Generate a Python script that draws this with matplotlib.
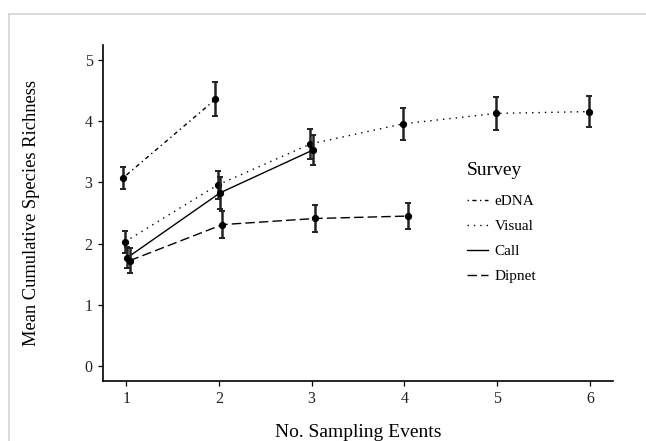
import numpy as np
import matplotlib
matplotlib.use("Agg")
import matplotlib.pyplot as plt
from matplotlib.lines import Line2D

plt.rcParams['font.family'] = ['Liberation Serif', 'DejaVu Serif']

# survey order as in legend
surveys = ['eDNA', 'Visual', 'Call', 'Dipnet']

edna_x = [1, 2]
edna_y = [3.07, 4.36]
edna_se = [0.18, 0.28]

visual_x = [1, 2, 3, 4, 5, 6]
visual_y = [2.03, 2.96, 3.63, 3.96, 4.13, 4.16]
visual_se = [0.18, 0.23, 0.25, 0.26, 0.27, 0.26]

call_x = [1, 2, 3]
call_y = [1.77, 2.83, 3.53]
call_se = [0.17, 0.26, 0.25]

dipnet_x = [1, 2, 3, 4]
dipnet_y = [1.72, 2.31, 2.41, 2.45]
dipnet_se = [0.21, 0.22, 0.22, 0.22]

data = {
    'eDNA': (edna_x, edna_y, edna_se),
    'Visual': (visual_x, visual_y, visual_se),
    'Call': (call_x, call_y, call_se),
    'Dipnet': (dipnet_x, dipnet_y, dipnet_se),
}

# ggplot-ish linetypes
styles = {
    'eDNA': (0, (1, 2.5, 3, 2.5)),
    'Visual': (0, (1, 3.6)),
    'Call': '-',
    'Dipnet': (0, (6.8, 3)),
}
dodge = dict(zip(surveys, [-0.0375, -0.0125, 0.0125, 0.0375]))
LW = 1.0

fig = plt.figure(figsize=(6.46, 4.41), dpi=100)
ax = fig.add_axes([103/646, 1-381/441, 510/646, (381-45)/441])

for s in surveys:
    x, y, se = data[s]
    xd = np.array(x) + dodge[s]
    ax.plot(xd, y, color='black', lw=LW, linestyle=styles[s], label=s)
    ax.errorbar(xd, y, yerr=se, fmt='none', ecolor='#222222', elinewidth=1.8,
                capsize=2.5, capthick=1.4)
    ax.plot(xd, y, 'o', color='black', ms=4.2, linestyle='none')

ax.set_xlim(0.75, 6.25)
ax.set_ylim(-0.25, 5.25)
ax.set_xticks([1, 2, 3, 4, 5, 6])
ax.set_yticks([0, 1, 2, 3, 4, 5])
for sp in ['top', 'right']:
    ax.spines[sp].set_visible(False)
for sp in ['left', 'bottom']:
    ax.spines[sp].set_linewidth(1.2)
ax.tick_params(labelsize=11.5, length=3.5, width=0.9, colors='black', pad=4)
for t in ax.get_xticklabels() + ax.get_yticklabels():
    t.set_color('#222222')

ax.set_xlabel('No. Sampling Events', fontsize=14, labelpad=12)
ax.set_ylabel('Mean Cumulative Species Richness', fontsize=13.3, labelpad=32)

handles = [Line2D([0], [0], color='black', lw=LW, linestyle=styles[s]) for s in surveys]
leg = ax.legend(handles, surveys, title='Survey', loc='upper left',
                bbox_to_anchor=(0.714, 0.652), bbox_transform=ax.transAxes,
                frameon=False, fontsize=11, title_fontsize=14, handlelength=1.35,
                labelspacing=0.75, handletextpad=0.45, borderaxespad=0, borderpad=0)
leg._legend_box.align = 'left'
leg._legend_box.sep = 11

# light frame from the screenshot
fig.add_artist(Line2D([9/646, 1], [1-14/441, 1-14/441], transform=fig.transFigure,
                      color='#d4d4d4', lw=1.2))
fig.add_artist(Line2D([9/646, 9/646], [0, 1-14/441], transform=fig.transFigure,
                      color='#d4d4d4', lw=1.2))

fig.savefig('out.png', dpi=100)
